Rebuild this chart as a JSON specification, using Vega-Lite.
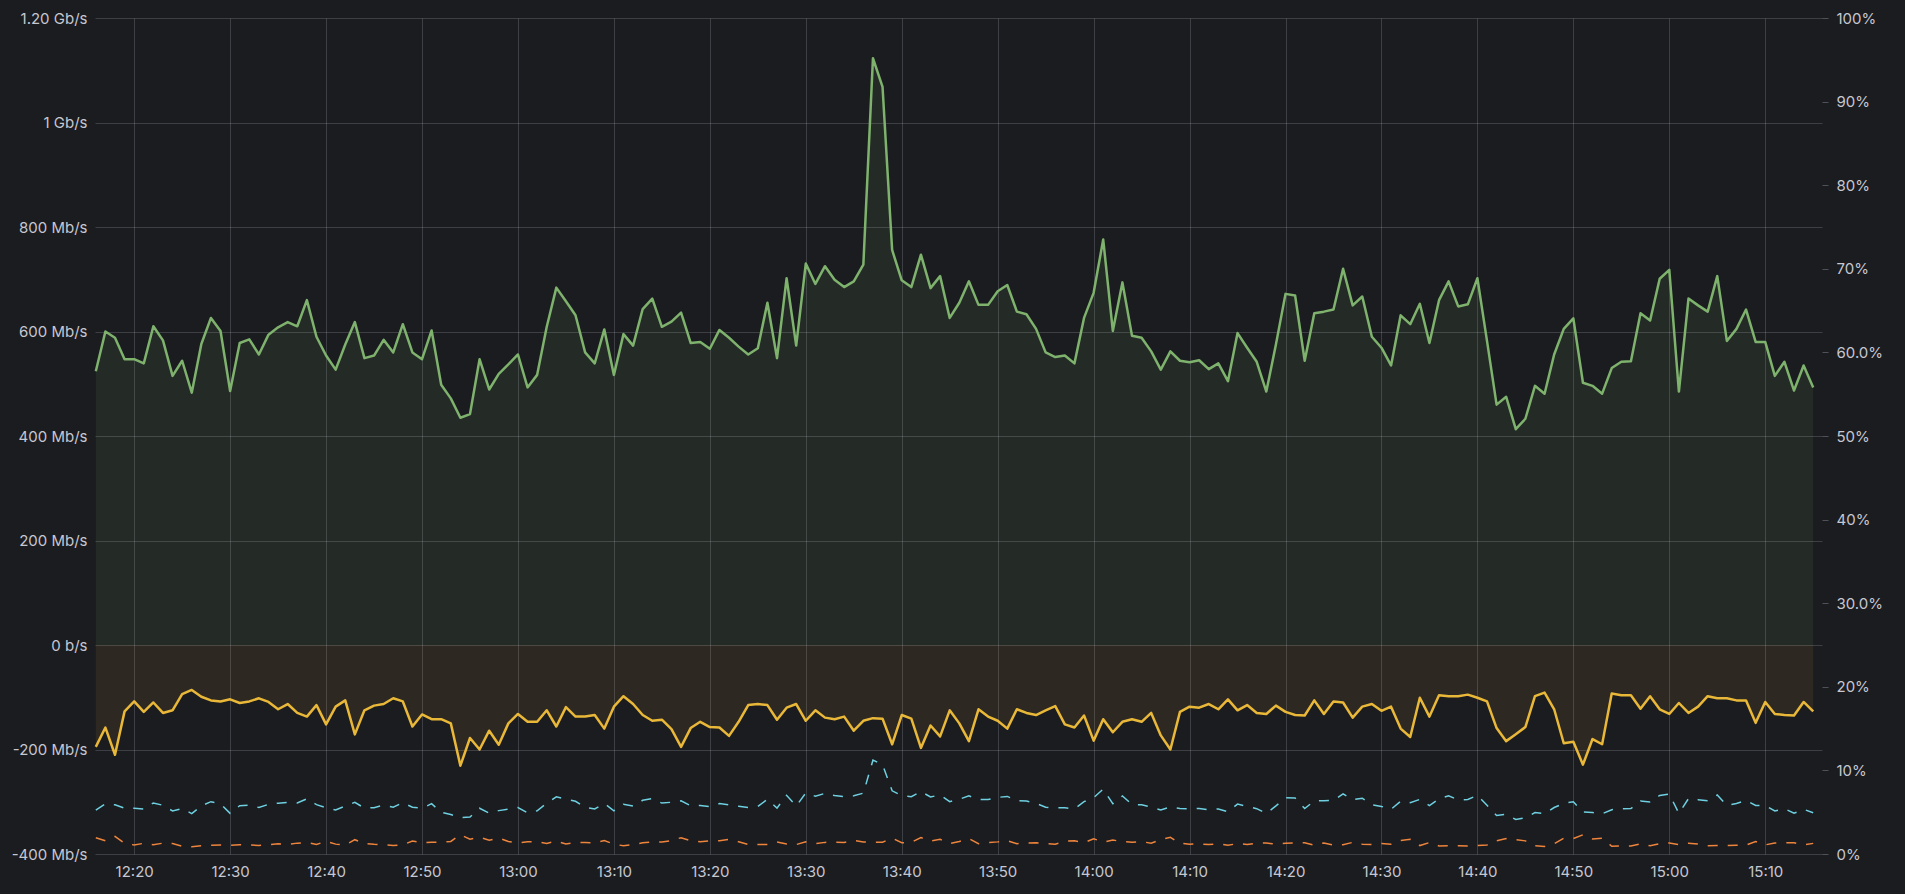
{
"$schema": "https://vega.github.io/schema/vega-lite/v6.json",
"width": 1727, "height": 836,
"autosize": {"type": "none"},
"padding": {"left": 95, "top": 18, "right": 83, "bottom": 40},
"background": "#1a1c20",
"config": {"view": {"stroke": null}, "axis": {"labelFont": "Inter", "labelFontSize": 15, "labelColor": "#c7c7d0", "domain": false, "gridColor": "#ccccdc", "gridOpacity": 0.2}},
"data": {"values": [
{"t":"2024-01-01T12:16:00Z","i":524,"o":-195,"ip":5.24,"op":1.95},{"t":"2024-01-01T12:17:00Z","i":600,"o":-158,"ip":6.00,"op":1.58},{"t":"2024-01-01T12:18:00Z","i":588,"o":-210,"ip":5.88,"op":2.10},{"t":"2024-01-01T12:19:00Z","i":547,"o":-127,"ip":5.47,"op":1.27},{"t":"2024-01-01T12:20:00Z","i":547,"o":-108,"ip":5.47,"op":1.08},{"t":"2024-01-01T12:21:00Z","i":539,"o":-128,"ip":5.39,"op":1.28},{"t":"2024-01-01T12:22:00Z","i":610,"o":-110,"ip":6.10,"op":1.10},{"t":"2024-01-01T12:23:00Z","i":583,"o":-130,"ip":5.83,"op":1.30},{"t":"2024-01-01T12:24:00Z","i":515,"o":-125,"ip":5.15,"op":1.25},{"t":"2024-01-01T12:25:00Z","i":544,"o":-94,"ip":5.44,"op":0.94},{"t":"2024-01-01T12:26:00Z","i":483,"o":-86,"ip":4.83,"op":0.86},{"t":"2024-01-01T12:27:00Z","i":576,"o":-99,"ip":5.76,"op":0.99},{"t":"2024-01-01T12:28:00Z","i":626,"o":-106,"ip":6.26,"op":1.06},{"t":"2024-01-01T12:29:00Z","i":601,"o":-108,"ip":6.01,"op":1.08},{"t":"2024-01-01T12:30:00Z","i":486,"o":-104,"ip":4.86,"op":1.04},{"t":"2024-01-01T12:31:00Z","i":578,"o":-111,"ip":5.78,"op":1.11},{"t":"2024-01-01T12:32:00Z","i":585,"o":-108,"ip":5.85,"op":1.08},{"t":"2024-01-01T12:33:00Z","i":556,"o":-102,"ip":5.56,"op":1.02},{"t":"2024-01-01T12:34:00Z","i":594,"o":-109,"ip":5.94,"op":1.09},{"t":"2024-01-01T12:35:00Z","i":608,"o":-123,"ip":6.08,"op":1.23},{"t":"2024-01-01T12:36:00Z","i":618,"o":-113,"ip":6.18,"op":1.13},{"t":"2024-01-01T12:37:00Z","i":610,"o":-130,"ip":6.10,"op":1.30},{"t":"2024-01-01T12:38:00Z","i":660,"o":-137,"ip":6.60,"op":1.37},{"t":"2024-01-01T12:39:00Z","i":590,"o":-115,"ip":5.90,"op":1.15},{"t":"2024-01-01T12:40:00Z","i":554,"o":-152,"ip":5.54,"op":1.52},{"t":"2024-01-01T12:41:00Z","i":527,"o":-118,"ip":5.27,"op":1.18},{"t":"2024-01-01T12:42:00Z","i":575,"o":-106,"ip":5.75,"op":1.06},{"t":"2024-01-01T12:43:00Z","i":618,"o":-171,"ip":6.18,"op":1.71},{"t":"2024-01-01T12:44:00Z","i":549,"o":-125,"ip":5.49,"op":1.25},{"t":"2024-01-01T12:45:00Z","i":554,"o":-116,"ip":5.54,"op":1.16},{"t":"2024-01-01T12:46:00Z","i":584,"o":-113,"ip":5.84,"op":1.13},{"t":"2024-01-01T12:47:00Z","i":560,"o":-102,"ip":5.60,"op":1.02},{"t":"2024-01-01T12:48:00Z","i":614,"o":-108,"ip":6.14,"op":1.08},{"t":"2024-01-01T12:49:00Z","i":560,"o":-156,"ip":5.60,"op":1.56},{"t":"2024-01-01T12:50:00Z","i":547,"o":-133,"ip":5.47,"op":1.33},{"t":"2024-01-01T12:51:00Z","i":602,"o":-142,"ip":6.02,"op":1.42},{"t":"2024-01-01T12:52:00Z","i":498,"o":-142,"ip":4.98,"op":1.42},{"t":"2024-01-01T12:53:00Z","i":472,"o":-150,"ip":4.72,"op":1.50},{"t":"2024-01-01T12:54:00Z","i":435,"o":-231,"ip":4.35,"op":2.31},{"t":"2024-01-01T12:55:00Z","i":442,"o":-178,"ip":4.42,"op":1.78},{"t":"2024-01-01T12:56:00Z","i":547,"o":-200,"ip":5.47,"op":2.00},{"t":"2024-01-01T12:57:00Z","i":489,"o":-164,"ip":4.89,"op":1.64},{"t":"2024-01-01T12:58:00Z","i":519,"o":-191,"ip":5.19,"op":1.91},{"t":"2024-01-01T12:59:00Z","i":537,"o":-150,"ip":5.37,"op":1.50},
{"t":"2024-01-01T13:00:00Z","i":556,"o":-132,"ip":5.56,"op":1.32},{"t":"2024-01-01T13:01:00Z","i":493,"o":-147,"ip":4.93,"op":1.47},{"t":"2024-01-01T13:02:00Z","i":517,"o":-147,"ip":5.17,"op":1.47},{"t":"2024-01-01T13:03:00Z","i":609,"o":-125,"ip":6.09,"op":1.25},{"t":"2024-01-01T13:04:00Z","i":684,"o":-156,"ip":6.84,"op":1.56},{"t":"2024-01-01T13:05:00Z","i":658,"o":-119,"ip":6.58,"op":1.19},{"t":"2024-01-01T13:06:00Z","i":631,"o":-137,"ip":6.31,"op":1.37},{"t":"2024-01-01T13:07:00Z","i":560,"o":-137,"ip":5.60,"op":1.37},{"t":"2024-01-01T13:08:00Z","i":539,"o":-134,"ip":5.39,"op":1.34},{"t":"2024-01-01T13:09:00Z","i":604,"o":-160,"ip":6.04,"op":1.60},{"t":"2024-01-01T13:10:00Z","i":517,"o":-118,"ip":5.17,"op":1.18},{"t":"2024-01-01T13:11:00Z","i":595,"o":-98,"ip":5.95,"op":0.98},{"t":"2024-01-01T13:12:00Z","i":573,"o":-113,"ip":5.73,"op":1.13},{"t":"2024-01-01T13:13:00Z","i":643,"o":-134,"ip":6.43,"op":1.34},{"t":"2024-01-01T13:14:00Z","i":663,"o":-145,"ip":6.63,"op":1.45},{"t":"2024-01-01T13:15:00Z","i":609,"o":-143,"ip":6.09,"op":1.43},{"t":"2024-01-01T13:16:00Z","i":619,"o":-161,"ip":6.19,"op":1.61},{"t":"2024-01-01T13:17:00Z","i":636,"o":-195,"ip":6.36,"op":1.95},{"t":"2024-01-01T13:18:00Z","i":578,"o":-159,"ip":5.78,"op":1.59},{"t":"2024-01-01T13:19:00Z","i":580,"o":-147,"ip":5.80,"op":1.47},{"t":"2024-01-01T13:20:00Z","i":567,"o":-157,"ip":5.67,"op":1.57},{"t":"2024-01-01T13:21:00Z","i":603,"o":-158,"ip":6.03,"op":1.58},{"t":"2024-01-01T13:22:00Z","i":588,"o":-174,"ip":5.88,"op":1.74},{"t":"2024-01-01T13:23:00Z","i":571,"o":-147,"ip":5.71,"op":1.47},{"t":"2024-01-01T13:24:00Z","i":556,"o":-115,"ip":5.56,"op":1.15},{"t":"2024-01-01T13:25:00Z","i":568,"o":-113,"ip":5.68,"op":1.13},{"t":"2024-01-01T13:26:00Z","i":655,"o":-115,"ip":6.55,"op":1.15},{"t":"2024-01-01T13:27:00Z","i":549,"o":-143,"ip":5.49,"op":1.43},{"t":"2024-01-01T13:28:00Z","i":702,"o":-120,"ip":7.02,"op":1.20},{"t":"2024-01-01T13:29:00Z","i":573,"o":-113,"ip":5.73,"op":1.13},{"t":"2024-01-01T13:30:00Z","i":730,"o":-145,"ip":7.30,"op":1.45},{"t":"2024-01-01T13:31:00Z","i":691,"o":-125,"ip":6.91,"op":1.25},{"t":"2024-01-01T13:32:00Z","i":725,"o":-139,"ip":7.25,"op":1.39},{"t":"2024-01-01T13:33:00Z","i":699,"o":-142,"ip":6.99,"op":1.42},{"t":"2024-01-01T13:34:00Z","i":685,"o":-137,"ip":6.85,"op":1.37},{"t":"2024-01-01T13:35:00Z","i":696,"o":-164,"ip":6.96,"op":1.64},{"t":"2024-01-01T13:36:00Z","i":728,"o":-145,"ip":7.28,"op":1.45},{"t":"2024-01-01T13:37:00Z","i":1123,"o":-140,"ip":11.23,"op":1.40},{"t":"2024-01-01T13:38:00Z","i":1068,"o":-141,"ip":10.68,"op":1.41},{"t":"2024-01-01T13:39:00Z","i":756,"o":-190,"ip":7.56,"op":1.90},{"t":"2024-01-01T13:40:00Z","i":698,"o":-134,"ip":6.98,"op":1.34},{"t":"2024-01-01T13:41:00Z","i":685,"o":-141,"ip":6.85,"op":1.41},{"t":"2024-01-01T13:42:00Z","i":747,"o":-197,"ip":7.47,"op":1.97},{"t":"2024-01-01T13:43:00Z","i":683,"o":-154,"ip":6.83,"op":1.54},{"t":"2024-01-01T13:44:00Z","i":706,"o":-175,"ip":7.06,"op":1.75},{"t":"2024-01-01T13:45:00Z","i":626,"o":-125,"ip":6.26,"op":1.25},{"t":"2024-01-01T13:46:00Z","i":655,"o":-150,"ip":6.55,"op":1.50},{"t":"2024-01-01T13:47:00Z","i":696,"o":-184,"ip":6.96,"op":1.84},{"t":"2024-01-01T13:48:00Z","i":651,"o":-123,"ip":6.51,"op":1.23},{"t":"2024-01-01T13:49:00Z","i":651,"o":-137,"ip":6.51,"op":1.37},{"t":"2024-01-01T13:50:00Z","i":677,"o":-145,"ip":6.77,"op":1.45},{"t":"2024-01-01T13:51:00Z","i":689,"o":-160,"ip":6.89,"op":1.60},{"t":"2024-01-01T13:52:00Z","i":638,"o":-123,"ip":6.38,"op":1.23},{"t":"2024-01-01T13:53:00Z","i":633,"o":-130,"ip":6.33,"op":1.30},{"t":"2024-01-01T13:54:00Z","i":605,"o":-134,"ip":6.05,"op":1.34},{"t":"2024-01-01T13:55:00Z","i":560,"o":-125,"ip":5.60,"op":1.25},{"t":"2024-01-01T13:56:00Z","i":551,"o":-117,"ip":5.51,"op":1.17},{"t":"2024-01-01T13:57:00Z","i":554,"o":-152,"ip":5.54,"op":1.52},{"t":"2024-01-01T13:58:00Z","i":539,"o":-158,"ip":5.39,"op":1.58},{"t":"2024-01-01T13:59:00Z","i":626,"o":-135,"ip":6.26,"op":1.35},
{"t":"2024-01-01T14:00:00Z","i":674,"o":-183,"ip":6.74,"op":1.83},{"t":"2024-01-01T14:01:00Z","i":776,"o":-142,"ip":7.76,"op":1.42},{"t":"2024-01-01T14:02:00Z","i":601,"o":-167,"ip":6.01,"op":1.67},{"t":"2024-01-01T14:03:00Z","i":694,"o":-147,"ip":6.94,"op":1.47},{"t":"2024-01-01T14:04:00Z","i":592,"o":-142,"ip":5.92,"op":1.42},{"t":"2024-01-01T14:05:00Z","i":588,"o":-147,"ip":5.88,"op":1.47},{"t":"2024-01-01T14:06:00Z","i":562,"o":-130,"ip":5.62,"op":1.30},{"t":"2024-01-01T14:07:00Z","i":527,"o":-173,"ip":5.27,"op":1.73},{"t":"2024-01-01T14:08:00Z","i":562,"o":-200,"ip":5.62,"op":2.00},{"t":"2024-01-01T14:09:00Z","i":544,"o":-128,"ip":5.44,"op":1.28},{"t":"2024-01-01T14:10:00Z","i":541,"o":-118,"ip":5.41,"op":1.18},{"t":"2024-01-01T14:11:00Z","i":545,"o":-120,"ip":5.45,"op":1.20},{"t":"2024-01-01T14:12:00Z","i":528,"o":-113,"ip":5.28,"op":1.13},{"t":"2024-01-01T14:13:00Z","i":539,"o":-123,"ip":5.39,"op":1.23},{"t":"2024-01-01T14:14:00Z","i":505,"o":-104,"ip":5.05,"op":1.04},{"t":"2024-01-01T14:15:00Z","i":597,"o":-125,"ip":5.97,"op":1.25},{"t":"2024-01-01T14:16:00Z","i":569,"o":-115,"ip":5.69,"op":1.15},{"t":"2024-01-01T14:17:00Z","i":542,"o":-130,"ip":5.42,"op":1.30},{"t":"2024-01-01T14:18:00Z","i":485,"o":-132,"ip":4.85,"op":1.32},{"t":"2024-01-01T14:19:00Z","i":575,"o":-116,"ip":5.75,"op":1.16},{"t":"2024-01-01T14:20:00Z","i":672,"o":-128,"ip":6.72,"op":1.28},{"t":"2024-01-01T14:21:00Z","i":669,"o":-134,"ip":6.69,"op":1.34},{"t":"2024-01-01T14:22:00Z","i":544,"o":-135,"ip":5.44,"op":1.35},{"t":"2024-01-01T14:23:00Z","i":635,"o":-106,"ip":6.35,"op":1.06},{"t":"2024-01-01T14:24:00Z","i":638,"o":-132,"ip":6.38,"op":1.32},{"t":"2024-01-01T14:25:00Z","i":642,"o":-108,"ip":6.42,"op":1.08},{"t":"2024-01-01T14:26:00Z","i":720,"o":-110,"ip":7.20,"op":1.10},{"t":"2024-01-01T14:27:00Z","i":650,"o":-139,"ip":6.50,"op":1.39},{"t":"2024-01-01T14:28:00Z","i":667,"o":-118,"ip":6.67,"op":1.18},{"t":"2024-01-01T14:29:00Z","i":590,"o":-113,"ip":5.90,"op":1.13},{"t":"2024-01-01T14:30:00Z","i":569,"o":-126,"ip":5.69,"op":1.26},{"t":"2024-01-01T14:31:00Z","i":535,"o":-118,"ip":5.35,"op":1.18},{"t":"2024-01-01T14:32:00Z","i":631,"o":-160,"ip":6.31,"op":1.60},{"t":"2024-01-01T14:33:00Z","i":614,"o":-176,"ip":6.14,"op":1.76},{"t":"2024-01-01T14:34:00Z","i":653,"o":-101,"ip":6.53,"op":1.01},{"t":"2024-01-01T14:35:00Z","i":578,"o":-137,"ip":5.78,"op":1.37},{"t":"2024-01-01T14:36:00Z","i":660,"o":-96,"ip":6.60,"op":0.96},{"t":"2024-01-01T14:37:00Z","i":696,"o":-98,"ip":6.96,"op":0.98},{"t":"2024-01-01T14:38:00Z","i":648,"o":-98,"ip":6.48,"op":0.98},{"t":"2024-01-01T14:39:00Z","i":652,"o":-95,"ip":6.52,"op":0.95},{"t":"2024-01-01T14:40:00Z","i":702,"o":-101,"ip":7.02,"op":1.01},{"t":"2024-01-01T14:41:00Z","i":582,"o":-108,"ip":5.82,"op":1.08},{"t":"2024-01-01T14:42:00Z","i":460,"o":-159,"ip":4.60,"op":1.59},{"t":"2024-01-01T14:43:00Z","i":475,"o":-184,"ip":4.75,"op":1.84},{"t":"2024-01-01T14:44:00Z","i":413,"o":-171,"ip":4.13,"op":1.71},{"t":"2024-01-01T14:45:00Z","i":433,"o":-157,"ip":4.33,"op":1.57},{"t":"2024-01-01T14:46:00Z","i":496,"o":-98,"ip":4.96,"op":0.98},{"t":"2024-01-01T14:47:00Z","i":481,"o":-91,"ip":4.81,"op":0.91},{"t":"2024-01-01T14:48:00Z","i":556,"o":-123,"ip":5.56,"op":1.23},{"t":"2024-01-01T14:49:00Z","i":605,"o":-188,"ip":6.05,"op":1.88},{"t":"2024-01-01T14:50:00Z","i":625,"o":-185,"ip":6.25,"op":1.85},{"t":"2024-01-01T14:51:00Z","i":502,"o":-229,"ip":5.02,"op":2.29},{"t":"2024-01-01T14:52:00Z","i":496,"o":-180,"ip":4.96,"op":1.80},{"t":"2024-01-01T14:53:00Z","i":481,"o":-190,"ip":4.81,"op":1.90},{"t":"2024-01-01T14:54:00Z","i":530,"o":-93,"ip":5.30,"op":0.93},{"t":"2024-01-01T14:55:00Z","i":542,"o":-96,"ip":5.42,"op":0.96},{"t":"2024-01-01T14:56:00Z","i":543,"o":-96,"ip":5.43,"op":0.96},{"t":"2024-01-01T14:57:00Z","i":635,"o":-122,"ip":6.35,"op":1.22},{"t":"2024-01-01T14:58:00Z","i":621,"o":-98,"ip":6.21,"op":0.98},{"t":"2024-01-01T14:59:00Z","i":701,"o":-123,"ip":7.01,"op":1.23},
{"t":"2024-01-01T15:00:00Z","i":718,"o":-132,"ip":7.18,"op":1.32},{"t":"2024-01-01T15:01:00Z","i":485,"o":-111,"ip":4.85,"op":1.11},{"t":"2024-01-01T15:02:00Z","i":663,"o":-130,"ip":6.63,"op":1.30},{"t":"2024-01-01T15:03:00Z","i":650,"o":-118,"ip":6.50,"op":1.18},{"t":"2024-01-01T15:04:00Z","i":638,"o":-98,"ip":6.38,"op":0.98},{"t":"2024-01-01T15:05:00Z","i":706,"o":-102,"ip":7.06,"op":1.02},{"t":"2024-01-01T15:06:00Z","i":582,"o":-102,"ip":5.82,"op":1.02},{"t":"2024-01-01T15:07:00Z","i":605,"o":-106,"ip":6.05,"op":1.06},{"t":"2024-01-01T15:08:00Z","i":642,"o":-106,"ip":6.42,"op":1.06},{"t":"2024-01-01T15:09:00Z","i":580,"o":-149,"ip":5.80,"op":1.49},{"t":"2024-01-01T15:10:00Z","i":580,"o":-109,"ip":5.80,"op":1.09},{"t":"2024-01-01T15:11:00Z","i":515,"o":-132,"ip":5.15,"op":1.32},{"t":"2024-01-01T15:12:00Z","i":542,"o":-134,"ip":5.42,"op":1.34},{"t":"2024-01-01T15:13:00Z","i":487,"o":-135,"ip":4.87,"op":1.35},{"t":"2024-01-01T15:14:00Z","i":535,"o":-109,"ip":5.35,"op":1.09},{"t":"2024-01-01T15:15:00Z","i":493,"o":-127,"ip":4.93,"op":1.27}
]},
"encoding": {"x": {"field": "t", "type": "temporal",
  "scale": {"type": "utc", "domain": [1704111355000, 1704122155000]},
  "axis": {"format": "%H:%M", "values": [1704111600000, 1704112200000, 1704112800000, 1704113400000, 1704114000000, 1704114600000, 1704115200000, 1704115800000, 1704116400000, 1704117000000, 1704117600000, 1704118200000, 1704118800000, 1704119400000, 1704120000000, 1704120600000, 1704121200000, 1704121800000], "grid": true, "ticks": false, "labelPadding": 10, "title": null}}},
"layer": [
 {"layer": [
  {"mark": {"type": "area", "color": "#7EB26D", "opacity": 0.1},
   "encoding": {"y": {"field": "i", "type": "quantitative", "scale": {"domain": [-400, 1200], "nice": false, "zero": false},
     "axis": {"values": [-400, -200, 0, 200, 400, 600, 800, 1000, 1200], "grid": true, "ticks": false, "labelPadding": 8, "title": null,
       "labelExpr": "datum.value == 0 ? '0 b/s' : datum.value == 1000 ? '1 Gb/s' : datum.value == 1200 ? '1.20 Gb/s' : datum.value + ' Mb/s'"}},
     "y2": {"datum": 0}}},
  {"mark": {"type": "area", "color": "#D99A3A", "opacity": 0.1},
   "encoding": {"y": {"field": "o", "type": "quantitative", "scale": {"domain": [-400, 1200], "nice": false, "zero": false}}, "y2": {"datum": 0}}},
  {"mark": {"type": "line", "color": "#7EB26D", "strokeWidth": 2.5, "strokeJoin": "round"},
   "encoding": {"y": {"field": "i", "type": "quantitative", "scale": {"domain": [-400, 1200], "nice": false, "zero": false}}}},
  {"mark": {"type": "line", "color": "#EAB839", "strokeWidth": 2.5, "strokeJoin": "round"},
   "encoding": {"y": {"field": "o", "type": "quantitative", "scale": {"domain": [-400, 1200], "nice": false, "zero": false}}}}
 ]},
 {"layer": [
  {"mark": {"type": "line", "color": "#6ED0E0", "strokeWidth": 1.5, "strokeDash": [10, 10]},
   "encoding": {"y": {"field": "ip", "type": "quantitative", "scale": {"domain": [0, 100], "nice": false, "zero": false},
     "axis": {"orient": "right", "values": [0, 10, 20, 30, 40, 50, 60, 70, 80, 90, 100], "grid": false, "ticks": true, "tickSize": 6, "tickColor": "#ccccdc", "tickOpacity": 0.3, "labelPadding": 8, "title": null,
       "labelExpr": "datum.value == 60 || datum.value == 30 ? format(datum.value, '.1f') + '%' : datum.value + '%'"}}}},
  {"mark": {"type": "line", "color": "#EF843C", "strokeWidth": 1.5, "strokeDash": [10, 10]},
   "encoding": {"y": {"field": "op", "type": "quantitative", "scale": {"domain": [0, 100], "nice": false, "zero": false}}}}
 ]}
],
"resolve": {"scale": {"y": "independent"}}
}
